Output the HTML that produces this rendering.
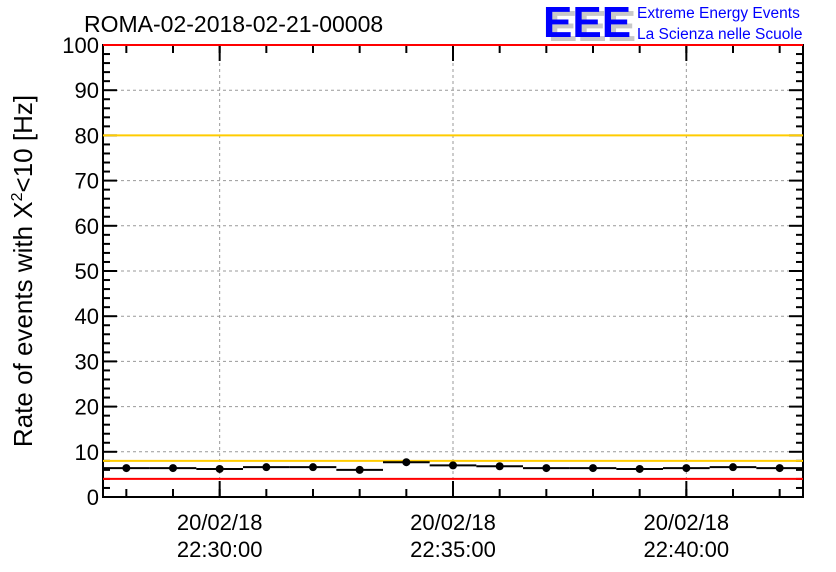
<!DOCTYPE html>
<html><head><meta charset="utf-8"><style>
html,body{margin:0;padding:0;background:#fff;}
svg{display:block;font-family:"Liberation Sans",sans-serif;}
</style></head><body>
<svg id="chart" width="836" height="572" viewBox="0 0 836 572">
<rect width="836" height="572" fill="#fff"/>
<text x="84" y="32" font-size="23">ROMA-02-2018-02-21-00008</text>
<g>
<text x="548" y="41" font-size="44" font-weight="bold" fill="#c8c8c8">EEE</text>
<text x="543" y="37" font-size="44" font-weight="bold" fill="#0000ff">EEE</text>
<text x="637" y="18" font-size="15.5" fill="#0000ff">Extreme Energy Events</text>
<text x="637" y="39" font-size="15.5" fill="#0000ff">La Scienza nelle Scuole</text>
</g>
<g id="grid"></g>
<g id="axes"></g>
<g id="marks"></g>
<text transform="translate(32,271) rotate(-90)" text-anchor="middle" font-size="26">Rate of events with X<tspan dy="-10" font-size="16">2</tspan><tspan dy="10">&lt;10 [Hz]</tspan></text>
</svg>
<script>
const rates=[6.4,6.4,6.2,6.6,6.6,6.0,7.7,7.0,6.8,6.4,6.4,6.2,6.4,6.6,6.4];
const yTicks=[0,10,20,30,40,50,60,70,80,90,100];
const xTickMinutes=[2,7,12];
const xTickDates=["20/02/18","20/02/18","20/02/18"];
const xTickTimes=["22:30:00","22:35:00","22:40:00"];
const yellowLimits=[80,8];
const redLimits=[100,4];
const NS="http://www.w3.org/2000/svg";
const L=103,R=803,T=45,B=497,nBins=rates.length;
const xs=m=>L+(R-L)*m/nBins;
const ys=v=>B-(B-T)*v/100;
function mk(tag,attrs,parent){const e=document.createElementNS(NS,tag);for(const k in attrs)e.setAttribute(k,attrs[k]);parent.appendChild(e);return e;}
const grid=document.getElementById('grid'),axes=document.getElementById('axes'),marks=document.getElementById('marks');
yTicks.forEach(v=>{
 if(v>0&&v<100){const g=mk('line',{x1:L,x2:R,y1:ys(v),y2:ys(v),stroke:'#999','stroke-dasharray':'3,3'},grid);
 
 }
 const t=mk('text',{x:L-4,y:ys(v)+8,'text-anchor':'end','font-size':22},axes);t.textContent=v;
 
 
});
for(let v=0;v<=100;v+=2){const big=v%10==0;mk('line',{x1:L,x2:L+(big?14:7),y1:ys(v),y2:ys(v),stroke:'#000','stroke-width':2},axes);mk('line',{x1:R,x2:R-(big?14:7),y1:ys(v),y2:ys(v),stroke:'#000','stroke-width':2},axes);}
xTickMinutes.forEach((m,i)=>{
 const x=xs(m+0.5);
 const g=mk('line',{x1:x,x2:x,y1:T,y2:B,stroke:'#999','stroke-dasharray':'3,3'},grid);
 
 
 const t1=mk('text',{x:x,y:530,'text-anchor':'middle','font-size':22},axes);t1.textContent=xTickDates[i];
 
 
 const t2=mk('text',{x:x,y:557,'text-anchor':'middle','font-size':22},axes);t2.textContent=xTickTimes[i];
 
 
});
for(let m=0;m<nBins;m++){const x=xs(m+0.5);mk('line',{x1:x,x2:x,y1:B,y2:B-8,stroke:'#000','stroke-width':2},axes);mk('line',{x1:x,x2:x,y1:T,y2:T+8,stroke:'#000','stroke-width':2},axes);}
xTickMinutes.forEach(m=>{const x=xs(m+0.5);mk('line',{x1:x,x2:x,y1:B,y2:B-16,stroke:'#000','stroke-width':2},axes);mk('line',{x1:x,x2:x,y1:T,y2:T+16,stroke:'#000','stroke-width':2},axes);});
const frame=mk('rect',{x:L,y:T,width:R-L,height:B-T,fill:'none',stroke:'#000','stroke-width':2},axes);


yellowLimits.forEach(v=>{const l=mk('line',{x1:L,x2:R,y1:ys(v),y2:ys(v),stroke:'#ffcc00','stroke-width':2},marks);
 
 });
redLimits.forEach(v=>{const l=mk('line',{x1:L,x2:R,y1:ys(v),y2:ys(v),stroke:'#ff0000','stroke-width':2},marks);
 
 });
rates.forEach((v,i)=>{
 const y=ys(v);
 const h=mk('line',{x1:xs(i),x2:xs(i+1),y1:y,y2:y,stroke:'#000','stroke-width':2},marks);
 
 
 const c=mk('circle',{cx:xs(i+0.5),cy:y,r:4,fill:'#000'},marks);
 
 
});
</script>
</body></html>
